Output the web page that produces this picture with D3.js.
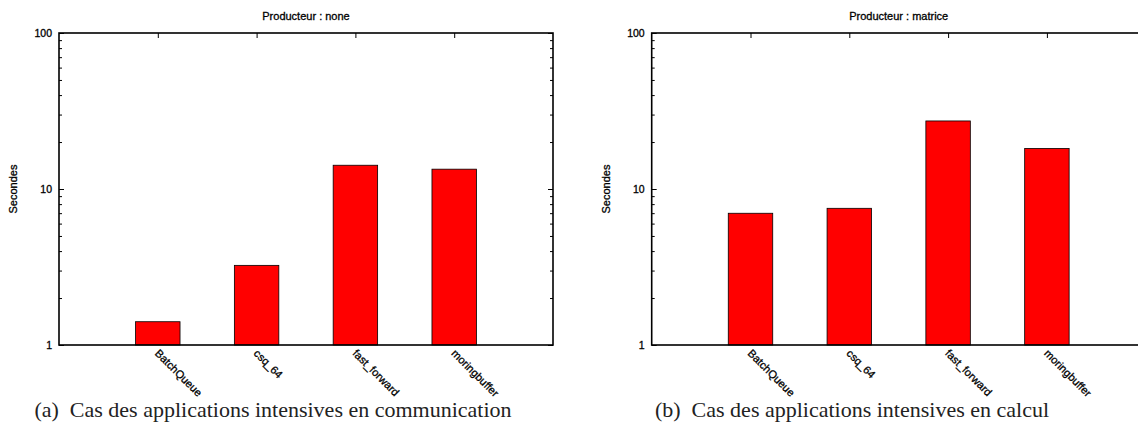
<!DOCTYPE html>
<html>
<head>
<meta charset="utf-8">
<script src="https://cdn.jsdelivr.net/npm/d3@7"></script>
<style>
  html, body { margin: 0; padding: 0; background: #fff; }
  svg { display: block; }
  .tick text { font-family: "Liberation Sans", Arial, sans-serif; }
</style>
</head>
<body>
<svg id="chart" width="1138" height="425"></svg>
<script>
// ---- data ----
const categories = ["BatchQueue", "csq_64", "fast_forward", "moringbuffer"];
const valuesNone = [1.41, 3.24, 14.2, 13.4];
const valuesMatrice = [6.99, 7.52, 27.3, 18.2];
const titles = ["Producteur : none", "Producteur : matrice"];
const captions = ["(a)\u2002Cas des applications intensives en communication",
                  "(b)\u2002Cas des applications intensives en calcul"];
const yLabel = "Secondes";
const yMajorTicks = [1, 10, 100];
const yMinorTicks = [2, 3, 4, 5, 6, 7, 8, 9, 20, 30, 40, 50, 60, 70, 80, 90];

const svg = d3.select("#chart");
const panels = [
  { left: 59, values: valuesNone, title: titles[0], caption: captions[0], capX: 273 },
  { left: 651.7, values: valuesMatrice, title: titles[1], caption: captions[1], capX: 852 }
];
const plotW = 494, plotTop = 33, plotBottom = 345;
const sans = "'Liberation Sans', Arial, Helvetica, sans-serif";

function heavy(sel) {
  return sel.attr("stroke", "#000").attr("stroke-width", 0.3);
}

panels.forEach(p => {
  const g = svg.append("g");
  const x = d3.scaleLinear().domain([-1, categories.length]).range([p.left, p.left + plotW]);
  const y = d3.scaleLog().domain([1, 100]).range([plotBottom, plotTop]);
  const idx = categories.map((_, i) => i);

  // bars
  const bw = x(0.225) - x(-0.225);
  g.selectAll("rect.bar").data(p.values).join("rect")
    .attr("class", "bar")
    .attr("x", (d, i) => x(i) - bw / 2)
    .attr("y", d => y(d))
    .attr("width", bw)
    .attr("height", d => y(1) - y(d))
    .attr("fill", "#ff0000")
    .attr("stroke", "#000")
    .attr("stroke-width", 0.8);

  // left axis: major with labels
  const yAxisL = g.append("g").attr("transform", `translate(${p.left},0)`)
    .call(d3.axisLeft(y).tickValues(yMajorTicks).tickFormat(d3.format("d"))
      .tickSizeInner(-5).tickSizeOuter(0).tickPadding(7));
  // left minor
  const yAxisLm = g.append("g").attr("transform", `translate(${p.left},0)`)
    .call(d3.axisLeft(y).tickValues(yMinorTicks).tickFormat("")
      .tickSizeInner(-3).tickSizeOuter(0));
  // right mirror
  const yAxisR = g.append("g").attr("transform", `translate(${p.left + plotW},0)`)
    .call(d3.axisRight(y).tickValues(yMajorTicks).tickFormat("")
      .tickSizeInner(-5).tickSizeOuter(0));
  const yAxisRm = g.append("g").attr("transform", `translate(${p.left + plotW},0)`)
    .call(d3.axisRight(y).tickValues(yMinorTicks).tickFormat("")
      .tickSizeInner(-3).tickSizeOuter(0));
  // top mirror x ticks
  const xAxisT = g.append("g").attr("transform", `translate(0,${plotTop})`)
    .call(d3.axisTop(x).tickValues(idx).tickFormat("")
      .tickSizeInner(-5).tickSizeOuter(0));
  // bottom x axis
  const xAxisB = g.append("g").attr("transform", `translate(0,${plotBottom})`)
    .call(d3.axisBottom(x).tickValues(idx).tickFormat("")
      .tickSizeInner(0).tickSizeOuter(0));

  [yAxisL, yAxisLm, yAxisR, yAxisRm, xAxisT, xAxisB].forEach(a => {
    a.select(".domain").remove();
    a.selectAll(".tick line").attr("stroke", "#000").attr("stroke-width", 1);
  });
  heavy(yAxisL.selectAll(".tick text")
    .attr("font-family", sans).attr("font-size", 10.5).attr("fill", "#000"));

  // rotated category labels
  heavy(xAxisB.selectAll(".tick").append("text")
    .attr("transform", "translate(-4,9) rotate(45)")
    .attr("text-anchor", "start")
    .attr("font-family", sans).attr("font-size", 11).attr("fill", "#000")
    .text(d => categories[d]));

  // frame
  g.append("rect")
    .attr("x", p.left).attr("y", plotTop)
    .attr("width", plotW).attr("height", plotBottom - plotTop)
    .attr("fill", "none").attr("stroke", "#000").attr("stroke-width", 1.6);

  // title
  heavy(g.append("text")
    .attr("x", p.left + plotW / 2).attr("y", 20)
    .attr("text-anchor", "middle")
    .attr("font-family", sans).attr("font-size", 11).attr("fill", "#000")
    .text(p.title));

  // y label
  heavy(g.append("text")
    .attr("transform", `translate(${p.left - 42},${(plotTop + plotBottom) / 2}) rotate(-90)`)
    .attr("text-anchor", "middle")
    .attr("font-family", sans).attr("font-size", 11).attr("fill", "#000")
    .text(yLabel));

  // caption
  g.append("text")
    .attr("x", p.capX).attr("y", 417)
    .attr("text-anchor", "middle")
    .attr("font-family", "'Liberation Serif', 'Times New Roman', serif")
    .attr("font-size", 22).attr("fill", "#222")
    .text(p.caption);
});
</script>
</body>
</html>
